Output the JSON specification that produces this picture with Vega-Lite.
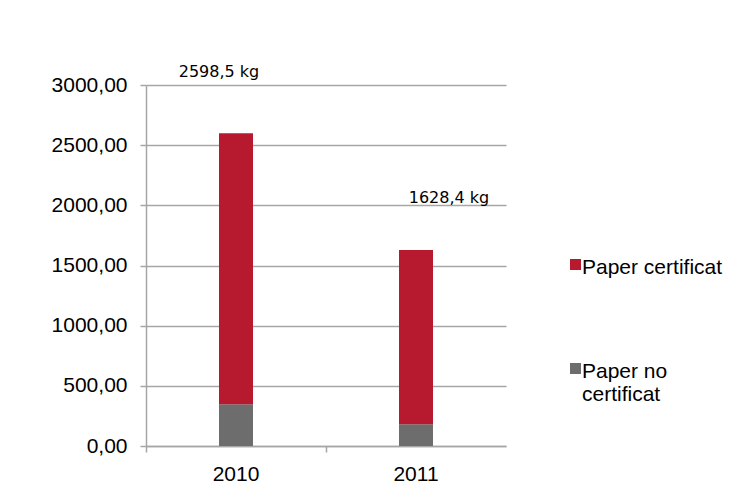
{
  "$schema": "https://vega.github.io/schema/vega-lite/v6.json",
  "width": 360,
  "height": 361,
  "autosize": {"type": "none"},
  "padding": {"left": 146, "top": 85, "right": 238, "bottom": 53},
  "background": "white",
  "config": {
    "view": {"stroke": null},
    "font": "Liberation Sans"
  },
  "datasets": {
    "bars": [
      {"year": "2010", "category": "Paper no certificat", "value": 347},
      {"year": "2010", "category": "Paper certificat", "value": 2251.5},
      {"year": "2011", "category": "Paper no certificat", "value": 180},
      {"year": "2011", "category": "Paper certificat", "value": 1448.4}
    ],
    "labels": [
      {"year": "2010", "total": 2598.5, "label": "2598,5 kg"},
      {"year": "2011", "total": 1628.4, "label": "1628,4 kg"}
    ]
  },
  "layer": [
    {
      "data": {"name": "bars"},
      "mark": {"type": "bar", "width": 34},
      "encoding": {
        "x": {
          "field": "year", "type": "nominal",
          "scale": {"paddingInner": 0, "paddingOuter": 0},
          "axis": {
            "title": null, "labelAngle": 0, "labelFont": "Liberation Sans", "labelFontSize": 21,
            "labelColor": "#000", "labelPadding": 11, "domainColor": "#a6a6a6", "domainWidth": 1.5,
            "tickColor": "#a6a6a6", "tickWidth": 1.5, "tickSize": 6, "bandPosition": 0, "grid": false
          }
        },
        "y": {
          "aggregate": "sum", "field": "value", "type": "quantitative",
          "scale": {"domain": [0, 3000], "nice": false},
          "axis": {
            "title": null, "values": [0, 500, 1000, 1500, 2000, 2500, 3000],
            "labelExpr": "replace(format(datum.value, '.2f'), '.', ',')",
            "labelFont": "Liberation Sans", "labelFontSize": 21, "labelColor": "#000", "labelPadding": 13,
            "domainColor": "#a6a6a6", "domainWidth": 1.5, "tickColor": "#a6a6a6", "tickWidth": 1.5, "tickSize": 6,
            "grid": true, "gridColor": "#a6a6a6", "gridWidth": 1.5
          }
        },
        "color": {
          "field": "category", "type": "nominal",
          "scale": {"domain": ["Paper certificat", "Paper no certificat"], "range": ["#b71a2e", "#6d6d6d"]},
          "legend": {
            "title": null, "orient": "none", "legendX": 419, "legendY": 169, "padding": 0,
            "symbolType": "square", "symbolSize": 121, "symbolStrokeWidth": 0,
            "labelFont": "Liberation Sans", "labelFontSize": 21, "labelColor": "#000", "labelOffset": -4,
            "labelBaseline": "alphabetic", "rowPadding": 80, "labelLimit": 200,
            "labelExpr": "datum.label == 'Paper no certificat' ? ['Paper no', 'certificat'] : datum.label",
            "encode": {"labels": {"update": {"dy": {"value": 9}}}}
          }
        },
        "order": {"field": "category", "sort": "descending"}
      }
    },
    {
      "data": {"name": "labels"},
      "transform": [{"filter": "datum.year == '2010'"}],
      "mark": {"type": "text", "font": "DejaVu Sans", "fontSize": 16, "color": "#000", "baseline": "alphabetic", "dx": -17, "dy": -56},
      "encoding": {
        "x": {"field": "year", "type": "nominal"},
        "y": {"field": "total", "type": "quantitative"},
        "text": {"field": "label"}
      }
    },
    {
      "data": {"name": "labels"},
      "transform": [{"filter": "datum.year == '2011'"}],
      "mark": {"type": "text", "font": "DejaVu Sans", "fontSize": 16, "color": "#000", "baseline": "alphabetic", "dx": 33, "dy": -47},
      "encoding": {
        "x": {"field": "year", "type": "nominal"},
        "y": {"field": "total", "type": "quantitative"},
        "text": {"field": "label"}
      }
    }
  ]
}
